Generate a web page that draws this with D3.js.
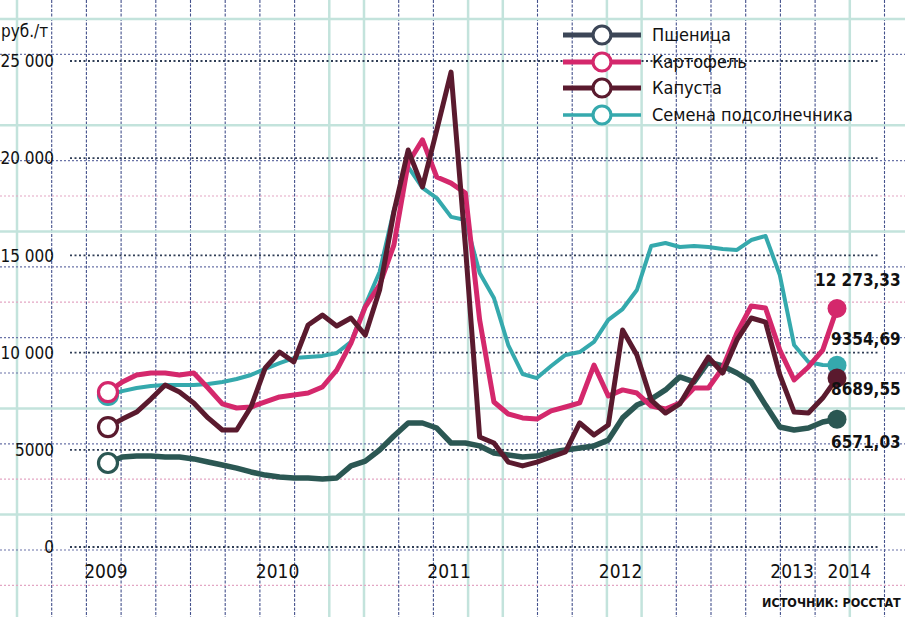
<!DOCTYPE html>
<html><head><meta charset="utf-8">
<script src="https://cdn.jsdelivr.net/npm/d3@7"></script>
<style>
html,body{margin:0;padding:0;background:#fff;}
svg{display:block;}
</style></head>
<body>
<svg id="chart" width="905" height="617"></svg>
<script>
// ---- DATA (monthly, Jan 2009 .. Apr 2013), руб./т ----
const seriesNames = ["Пшеница", "Картофель", "Капуста", "Семена подсолнечника"];
const wheat = [4320,4630,4680,4680,4630,4630,4530,4370,4220,4060,3860,3700,3600,3550,3550,3500,3550,4170,4420,4990,5710,6380,6380,6120,5350,5350,5200,4840,4730,4630,4680,4890,4990,5090,5200,5500,6640,7300,7610,8080,8750,8490,9520,9310,8950,8490,7300,6170,6020,6120,6430,6571.03];
const potato = [7970,8490,8850,8950,8950,8850,8950,8180,7360,7150,7200,7460,7720,7820,7920,8230,9100,10490,12350,13480,15530,19750,20940,19030,18720,18210,11680,7460,6840,6640,6580,7000,7200,7410,9360,7770,8080,7920,7250,7100,7410,8180,8180,9210,11010,12400,12290,10130,8590,9260,10130,12273.33];
const cabbage = [6170,6580,6940,7610,8330,7970,7410,6640,6020,6020,7200,9210,10030,9520,11420,11930,11370,11780,10900,13220,17230,20420,18520,21450,24430,15500,5660,5350,4370,4170,4370,4630,4890,6380,5760,6280,11160,9880,7560,6890,7360,8590,9770,8950,10650,11780,11570,8850,6940,6890,7660,8689.55];
const sunflower = [7820,8020,8180,8280,8330,8330,8330,8380,8490,8640,8850,9160,9460,9720,9770,9830,9980,10550,12450,14150,17340,19550,18470,17950,16980,16820,14090,12810,10390,8900,8690,9310,9880,10030,10550,11680,12240,13220,15480,15640,15430,15480,15430,15330,15280,15790,16000,13990,10390,9520,9360,9354.69];
const endLabels = ["6571,03", "12 273,33", "8689,55", "9354,69"];
const yTicks = [0, 5000, 10000, 15000, 20000, 25000];
const yTickLabels = ["0", "5000", "10 000", "15 000", "20 000", "25 000"];
const yearMonths = [0, 12, 24, 36, 48, 52];
const yearLabels = ["2009", "2010", "2011", "2012", "2013", "2014"];
const unitLabel = "руб./т";
const sourceLabel = "ИСТОЧНИК: РОССТАТ";

// ---- styles ----
const colors = ["#2b5753", "#d4286c", "#5a1a2e", "#35a9ad"];
const legendColors = ["#3c4657", "#d4286c", "#5a1a2e", "#35a9ad"];
const widths = [5.5, 5, 5, 4];
const FONT = "'DejaVu Sans Condensed','DejaVu Sans',sans-serif";

const svg = d3.select("#chart");
const x = d3.scaleLinear().domain([0, 51]).range([108, 837]);
const y = d3.scaleLinear().domain([0, 25000]).range([547, 61]);

// ---- grid paper background ----
const vPattern = "tnnnnnnnnttnnttnnttnnnnntnn";
const grid = svg.append("g");
for (let k = 0; k < 27; k++) {
  const gx = 17 + 34.7 * k;
  const t = vPattern[k] === "t";
  grid.append("line").attr("x1", gx).attr("x2", gx).attr("y1", 0).attr("y2", 617)
    .attr("stroke", t ? "#c3e3dc" : "#44518c").attr("stroke-width", t ? 2.5 : 1.1)
    .attr("stroke-dasharray", t ? null : "3,1.5");
}
const hPattern = "tnftnptnpnntnptnp";
for (let k = 0; k < 17; k++) {
  const gy = 19 + 35.4 * k;
  const c = hPattern[k];
  if (c === "f") continue;
  grid.append("line").attr("x1", 0).attr("x2", 905).attr("y1", gy).attr("y2", gy)
    .attr("stroke", c === "t" ? "#c3e3dc" : (c === "n" ? "#6a73a8" : "#e3a6c4"))
    .attr("stroke-width", c === "t" ? 2.5 : 1.2)
    .attr("stroke-dasharray", c === "t" ? null : "2,2");
}

// ---- y tick dotted lines and labels ----
const yAxis = svg.append("g");
yTicks.forEach((v, i) => {
  yAxis.append("line").attr("x1", 70).attr("x2", 880).attr("y1", y(v)).attr("y2", y(v))
    .attr("stroke", "#2f3d55").attr("stroke-width", 1.8).attr("stroke-dasharray", "2,2.5");
  yAxis.append("text").attr("x", 54).attr("y", y(v)).attr("dy", "0.36em")
    .attr("text-anchor", "end").attr("font-family", FONT)
    .attr("font-size", 17).attr("fill", "#111").text(yTickLabels[i]);
});
svg.append("text").attr("x", 1).attr("y", 37)
  .attr("font-family", FONT).attr("font-size", 17).attr("fill", "#111").text(unitLabel);

// ---- x labels ----
yearMonths.forEach((m, i) => {
  svg.append("text").attr("x", x(m) - 2).attr("y", 578).attr("text-anchor", "middle")
    .attr("font-family", FONT).attr("font-size", 19).attr("fill", "#111").text(yearLabels[i]);
});

// ---- lines ----
const all = [wheat, potato, cabbage, sunflower];
const line = d3.line().x((d, i) => x(i)).y(d => y(d)).curve(d3.curveLinear);
const drawOrder = [3, 0, 1, 2];
drawOrder.forEach(s => {
  svg.append("path").datum(all[s]).attr("d", line).attr("fill", "none")
    .attr("stroke", colors[s]).attr("stroke-width", widths[s])
    .attr("stroke-linejoin", "round").attr("stroke-linecap", "round");
});
// start circles (open)
[3, 0, 2, 1].forEach(s => {
  svg.append("circle").attr("cx", x(0)).attr("cy", y(all[s][0])).attr("r", 9.5)
    .attr("fill", "#fff").attr("stroke", colors[s]).attr("stroke-width", 3.2);
});
// end circles (filled)
[1, 3, 2, 0].forEach(s => {
  const n = all[s].length - 1;
  svg.append("circle").attr("cx", x(n)).attr("cy", y(all[s][n])).attr("r", 9.5)
    .attr("fill", colors[s]);
});
// end labels
const endLabelY = [442, 280, 389, 339];
const endLabelX = [831, 815, 831, 831];
[0, 1, 2, 3].forEach(s => {
  svg.append("text").attr("x", endLabelX[s]).attr("y", endLabelY[s]).attr("dy", "0.36em")
    .attr("font-family", FONT).attr("font-weight", "bold")
    .attr("font-size", 17).attr("fill", "#111").text(endLabels[s]);
});

// ---- legend ----
const legY = [35, 62, 88, 115];
seriesNames.forEach((name, s) => {
  const g = svg.append("g");
  g.append("line").attr("x1", 563).attr("x2", 641).attr("y1", legY[s]).attr("y2", legY[s])
    .attr("stroke", legendColors[s]).attr("stroke-width", s === 3 ? 3.5 : 5);
  g.append("circle").attr("cx", 602).attr("cy", legY[s]).attr("r", 9)
    .attr("fill", "#fff").attr("stroke", legendColors[s]).attr("stroke-width", 3.2);
  g.append("text").attr("x", 652).attr("y", legY[s]).attr("dy", "0.36em")
    .attr("font-family", FONT).attr("font-size", 18).attr("fill", "#111").text(name);
});

// ---- source ----
svg.append("text").attr("x", 762).attr("y", 607)
  .attr("font-family", FONT).attr("font-weight", "bold")
  .attr("font-size", 12.5).attr("fill", "#111").text(sourceLabel);
</script>
</body></html>
